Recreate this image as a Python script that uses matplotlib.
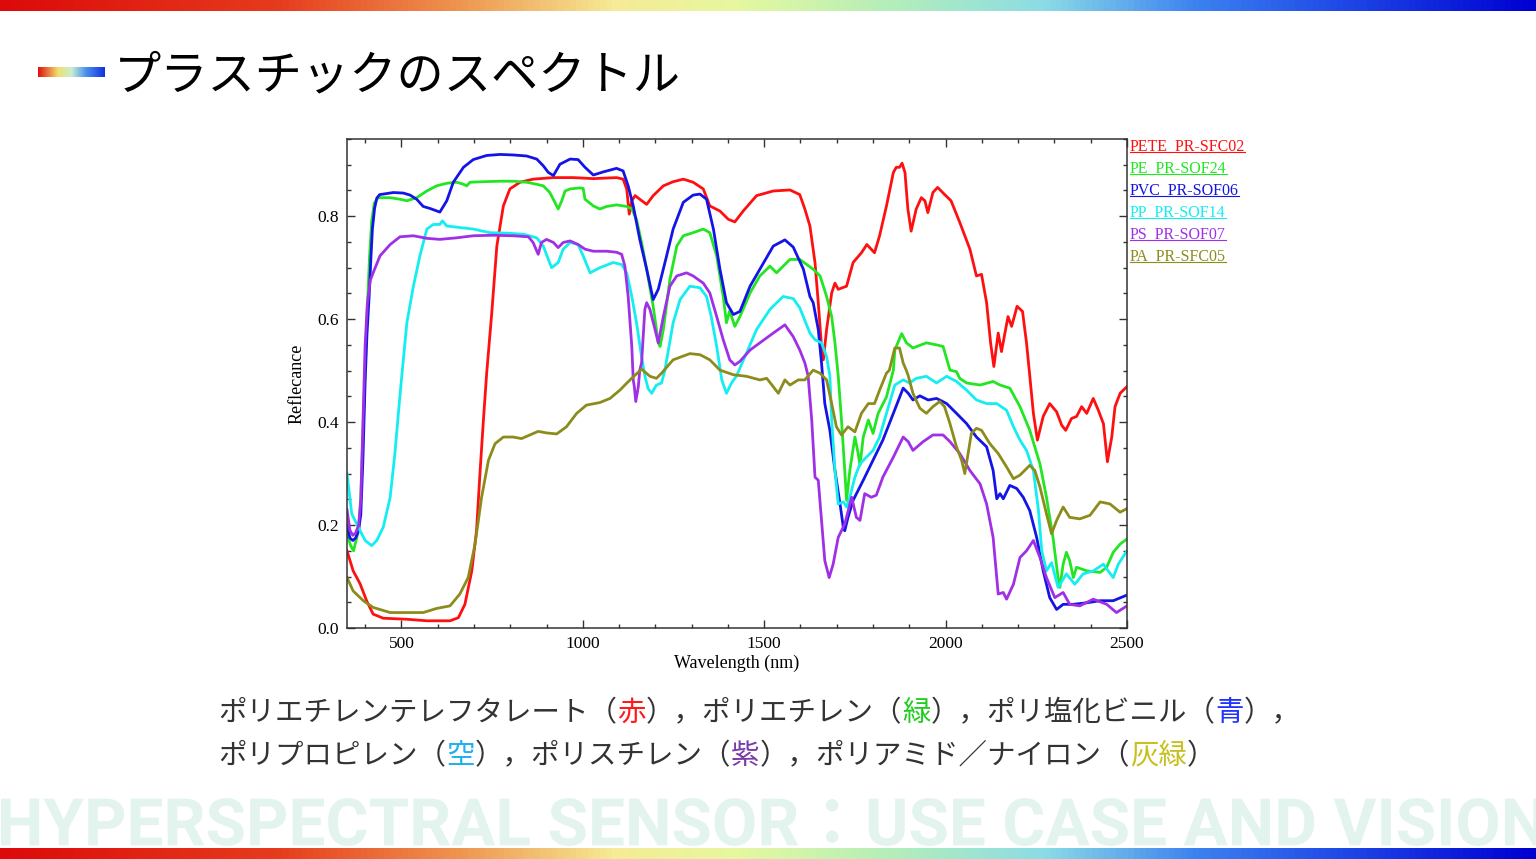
import matplotlib
matplotlib.use("Agg")
import matplotlib.pyplot as plt
import numpy as np
from matplotlib.colors import LinearSegmentedColormap
from matplotlib.textpath import TextPath
from matplotlib.patches import PathPatch
from matplotlib.font_manager import FontProperties
from matplotlib.lines import Line2D
import matplotlib.transforms as mtransforms
from matplotlib.ticker import MultipleLocator

# ---- data (wavelength nm, reflectance) ----
pete_wl = [350, 367, 386, 404, 422, 450, 515, 570, 634, 657,
           675, 694, 707, 717, 726, 735, 749, 763, 781, 799,
           827, 863, 919, 974, 1029, 1093, 1111, 1121, 1128, 1135,
           1144, 1157, 1176, 1194, 1222, 1249, 1277, 1304, 1332, 1350,
           1378, 1401, 1419, 1442, 1479, 1525, 1571, 1598, 1612, 1626,
           1640, 1649, 1658, 1663, 1672, 1686, 1695, 1704, 1727, 1745,
           1768, 1783, 1804, 1818, 1837, 1856, 1864, 1873, 1880, 1888,
           1896, 1905, 1919, 1933, 1943, 1951, 1965, 1978, 1996, 2015,
           2039, 2067, 2085, 2099, 2113, 2124, 2133, 2145, 2154, 2172,
           2182, 2197, 2212, 2223, 2232, 2242, 2253, 2269, 2287, 2306,
           2320, 2331, 2347, 2361, 2375, 2389, 2407, 2421, 2435, 2446,
           2458, 2467, 2481, 2500]
pete_r = [0.150, 0.111, 0.086, 0.053, 0.027, 0.019, 0.017, 0.014, 0.014, 0.020,
          0.046, 0.111, 0.189, 0.306, 0.404, 0.495, 0.612, 0.742, 0.820, 0.853,
          0.866, 0.872, 0.875, 0.875, 0.873, 0.875, 0.872, 0.853, 0.804, 0.830,
          0.840, 0.833, 0.823, 0.840, 0.859, 0.867, 0.872, 0.866, 0.853, 0.820,
          0.810, 0.794, 0.789, 0.810, 0.840, 0.849, 0.851, 0.842, 0.814, 0.781,
          0.710, 0.632, 0.547, 0.521, 0.580, 0.651, 0.670, 0.658, 0.664, 0.710,
          0.729, 0.745, 0.729, 0.762, 0.820, 0.885, 0.895, 0.895, 0.903, 0.885,
          0.814, 0.771, 0.814, 0.836, 0.830, 0.807, 0.846, 0.856, 0.843, 0.830,
          0.788, 0.736, 0.684, 0.687, 0.632, 0.554, 0.508, 0.573, 0.537, 0.605,
          0.586, 0.625, 0.615, 0.554, 0.490, 0.417, 0.365, 0.411, 0.436, 0.420,
          0.394, 0.384, 0.407, 0.411, 0.430, 0.417, 0.446, 0.423, 0.397, 0.323,
          0.371, 0.430, 0.456, 0.469]

pe_wl = [350, 360, 368, 375, 382, 388, 394, 400, 406, 412,
         418, 425, 436, 469, 496, 515, 542, 570, 597, 625,
         652, 671, 680, 689, 726, 772, 808, 845, 873, 891,
         909, 923, 932, 942, 951, 965, 992, 1001, 1006, 1029,
         1047, 1066, 1093, 1121, 1135, 1148, 1162, 1176, 1194, 1208,
         1213, 1222, 1240, 1259, 1277, 1304, 1332, 1350, 1369, 1387,
         1396, 1404, 1410, 1419, 1433, 1461, 1488, 1516, 1534, 1548,
         1571, 1598, 1635, 1654, 1672, 1686, 1695, 1704, 1713, 1722,
         1727, 1736, 1750, 1759, 1764, 1773, 1787, 1800, 1814, 1837,
         1856, 1860, 1879, 1892, 1910, 1947, 1975, 1993, 2012, 2030,
         2039, 2058, 2095, 2131, 2150, 2177, 2205, 2232, 2260, 2278,
         2296, 2310, 2315, 2324, 2333, 2342, 2352, 2361, 2389, 2426,
         2444, 2462, 2481, 2500]
pe_r = [0.185, 0.160, 0.150, 0.170, 0.190, 0.250, 0.380, 0.500, 0.620, 0.720,
        0.790, 0.825, 0.836, 0.836, 0.833, 0.830, 0.836, 0.849, 0.859, 0.864,
        0.866, 0.862, 0.859, 0.866, 0.867, 0.868, 0.868, 0.866, 0.862, 0.859,
        0.846, 0.827, 0.814, 0.830, 0.849, 0.853, 0.855, 0.854, 0.833, 0.820,
        0.814, 0.819, 0.822, 0.819, 0.814, 0.794, 0.749, 0.697, 0.625, 0.554,
        0.547, 0.580, 0.677, 0.742, 0.762, 0.768, 0.775, 0.768, 0.723, 0.644,
        0.593, 0.615, 0.605, 0.586, 0.605, 0.651, 0.684, 0.703, 0.690, 0.700,
        0.716, 0.716, 0.697, 0.684, 0.644, 0.605, 0.554, 0.490, 0.404, 0.306,
        0.248, 0.306, 0.371, 0.339, 0.316, 0.371, 0.404, 0.378, 0.417, 0.449,
        0.501, 0.540, 0.572, 0.554, 0.544, 0.554, 0.550, 0.547, 0.501, 0.498,
        0.485, 0.476, 0.472, 0.479, 0.472, 0.466, 0.430, 0.384, 0.319, 0.254,
        0.176, 0.098, 0.079, 0.124, 0.147, 0.131, 0.098, 0.118, 0.111, 0.108,
        0.118, 0.147, 0.163, 0.173]

pvc_wl = [350, 358, 366, 374, 382, 388, 394, 400, 405, 411,
          416, 420, 426, 432, 440, 450, 478, 505, 524, 542,
          560, 579, 606, 625, 643, 671, 698, 735, 772, 808,
          845, 873, 891, 905, 919, 937, 965, 987, 1006, 1029,
          1056, 1093, 1111, 1125, 1139, 1157, 1176, 1194, 1208, 1231,
          1249, 1277, 1304, 1323, 1341, 1360, 1378, 1396, 1415, 1433,
          1461, 1488, 1525, 1557, 1580, 1608, 1626, 1635, 1649, 1658,
          1667, 1681, 1695, 1709, 1718, 1722, 1731, 1745, 1773, 1800,
          1827, 1856, 1883, 1897, 1910, 1929, 1952, 1975, 2003, 2030,
          2058, 2085, 2113, 2131, 2141, 2150, 2159, 2177, 2196, 2214,
          2232, 2251, 2269, 2287, 2306, 2324, 2352, 2389, 2426, 2462,
          2500]
pvc_r = [0.200, 0.175, 0.170, 0.175, 0.190, 0.220, 0.330, 0.480, 0.570, 0.644,
         0.720, 0.775, 0.815, 0.835, 0.842, 0.843, 0.846, 0.845, 0.841, 0.833,
         0.819, 0.815, 0.808, 0.830, 0.866, 0.895, 0.910, 0.918, 0.920, 0.919,
         0.917, 0.911, 0.898, 0.885, 0.879, 0.901, 0.911, 0.910, 0.895, 0.880,
         0.886, 0.893, 0.888, 0.859, 0.820, 0.755, 0.697, 0.638, 0.658, 0.723,
         0.775, 0.827, 0.841, 0.843, 0.833, 0.775, 0.697, 0.632, 0.609, 0.615,
         0.664, 0.697, 0.742, 0.754, 0.740, 0.697, 0.644, 0.632, 0.580, 0.515,
         0.436, 0.384, 0.306, 0.241, 0.196, 0.189, 0.215, 0.248, 0.287, 0.326,
         0.365, 0.417, 0.466, 0.456, 0.443, 0.451, 0.443, 0.446, 0.436, 0.417,
         0.397, 0.371, 0.352, 0.306, 0.251, 0.261, 0.251, 0.277, 0.271, 0.254,
         0.228, 0.176, 0.111, 0.059, 0.036, 0.046, 0.046, 0.049, 0.053, 0.053,
         0.064]

pp_wl = [350, 363, 372, 381, 400, 418, 432, 450, 469, 482,
         494, 501, 515, 533, 551, 570, 588, 606, 613, 625,
         661, 698, 744, 790, 836, 873, 891, 905, 914, 932,
         946, 965, 987, 1001, 1020, 1047, 1084, 1107, 1121, 1135,
         1148, 1162, 1171, 1180, 1190, 1203, 1217, 1226, 1249, 1268,
         1295, 1323, 1341, 1354, 1369, 1383, 1396, 1410, 1424, 1451,
         1479, 1516, 1552, 1580, 1598, 1626, 1640, 1658, 1672, 1681,
         1686, 1695, 1704, 1718, 1727, 1736, 1750, 1764, 1782, 1800,
         1818, 1837, 1860, 1883, 1901, 1919, 1947, 1975, 2003, 2030,
         2058, 2085, 2113, 2141, 2168, 2187, 2205, 2223, 2242, 2256,
         2265, 2278, 2292, 2310, 2333, 2356, 2379, 2407, 2435, 2448,
         2462, 2476, 2500]
pp_r = [0.300, 0.222, 0.209, 0.196, 0.170, 0.160, 0.170, 0.196, 0.254, 0.339,
        0.436, 0.490, 0.593, 0.664, 0.723, 0.775, 0.784, 0.784, 0.791, 0.781,
        0.778, 0.775, 0.768, 0.767, 0.765, 0.758, 0.742, 0.716, 0.700, 0.710,
        0.736, 0.749, 0.745, 0.723, 0.690, 0.700, 0.710, 0.706, 0.690, 0.644,
        0.593, 0.527, 0.490, 0.465, 0.456, 0.472, 0.476, 0.500, 0.593, 0.638,
        0.664, 0.661, 0.644, 0.605, 0.547, 0.482, 0.456, 0.476, 0.490, 0.534,
        0.580, 0.619, 0.644, 0.640, 0.622, 0.573, 0.560, 0.554, 0.527, 0.490,
        0.404, 0.306, 0.241, 0.245, 0.235, 0.254, 0.293, 0.319, 0.332, 0.345,
        0.371, 0.417, 0.472, 0.482, 0.476, 0.485, 0.489, 0.476, 0.489, 0.479,
        0.462, 0.443, 0.436, 0.436, 0.423, 0.391, 0.365, 0.345, 0.306, 0.228,
        0.150, 0.111, 0.127, 0.079, 0.105, 0.085, 0.105, 0.111, 0.124, 0.111,
        0.098, 0.124, 0.150]

ps_wl = [350, 358, 366, 374, 382, 388, 394, 400, 406, 414,
         422, 441, 469, 496, 533, 570, 606, 652, 698, 753,
         808, 850, 863, 877, 886, 900, 919, 932, 946, 965,
         987, 1006, 1029, 1066, 1093, 1107, 1116, 1125, 1135, 1139,
         1142, 1146, 1153, 1157, 1162, 1171, 1176, 1185, 1199, 1208,
         1222, 1240, 1259, 1286, 1304, 1332, 1350, 1369, 1387, 1405,
         1419, 1433, 1461, 1488, 1525, 1557, 1580, 1598, 1612, 1621,
         1631, 1640, 1649, 1658, 1667, 1679, 1690, 1704, 1722, 1741,
         1754, 1764, 1777, 1795, 1809, 1827, 1856, 1883, 1897, 1910,
         1938, 1965, 1993, 2012, 2039, 2067, 2095, 2113, 2131, 2145,
         2159, 2168, 2187, 2205, 2223, 2242, 2260, 2278, 2301, 2324,
         2342, 2370, 2407, 2444, 2471, 2500]
ps_r = [0.230, 0.190, 0.180, 0.185, 0.200, 0.250, 0.400, 0.550, 0.630, 0.675,
        0.690, 0.723, 0.745, 0.760, 0.762, 0.757, 0.755, 0.758, 0.762, 0.763,
        0.762, 0.760, 0.749, 0.726, 0.749, 0.755, 0.749, 0.739, 0.749, 0.752,
        0.745, 0.736, 0.732, 0.732, 0.730, 0.726, 0.703, 0.644, 0.547, 0.482,
        0.469, 0.440, 0.469, 0.501, 0.515, 0.619, 0.632, 0.619, 0.580, 0.554,
        0.605, 0.664, 0.684, 0.690, 0.684, 0.670, 0.651, 0.605, 0.560, 0.521,
        0.511, 0.518, 0.540, 0.554, 0.573, 0.589, 0.566, 0.540, 0.515, 0.490,
        0.404, 0.293, 0.287, 0.209, 0.131, 0.098, 0.124, 0.176, 0.202, 0.254,
        0.215, 0.209, 0.261, 0.254, 0.258, 0.293, 0.332, 0.371, 0.362, 0.345,
        0.362, 0.375, 0.375, 0.362, 0.339, 0.306, 0.280, 0.241, 0.176, 0.066,
        0.069, 0.056, 0.085, 0.137, 0.150, 0.170, 0.137, 0.098, 0.059, 0.069,
        0.046, 0.043, 0.056, 0.046, 0.030, 0.043]

pa_wl = [350, 367, 395, 422, 469, 560, 597, 634, 661, 684,
         703, 721, 740, 758, 781, 808, 831, 854, 877, 900,
         928, 955, 983, 1010, 1047, 1075, 1102, 1130, 1162, 1185,
         1203, 1217, 1249, 1295, 1323, 1350, 1378, 1415, 1451, 1488,
         1507, 1539, 1557, 1571, 1594, 1612, 1635, 1654, 1672, 1686,
         1699, 1713, 1731, 1750, 1768, 1787, 1804, 1818, 1837, 1845,
         1860, 1873, 1883, 1892, 1897, 1910, 1929, 1947, 1965, 1984,
         1997, 2012, 2030, 2044, 2053, 2062, 2071, 2085, 2099, 2122,
         2145, 2168, 2187, 2205, 2232, 2246, 2260, 2278, 2292, 2306,
         2324, 2342, 2370, 2398, 2426, 2453, 2481, 2500]
pa_r = [0.098, 0.072, 0.053, 0.040, 0.030, 0.030, 0.038, 0.043, 0.066, 0.098,
        0.163, 0.254, 0.326, 0.358, 0.371, 0.371, 0.368, 0.375, 0.382, 0.379,
        0.377, 0.391, 0.417, 0.433, 0.438, 0.446, 0.462, 0.482, 0.503, 0.489,
        0.485, 0.495, 0.521, 0.533, 0.531, 0.521, 0.501, 0.492, 0.489, 0.482,
        0.485, 0.456, 0.482, 0.472, 0.482, 0.482, 0.501, 0.495, 0.482, 0.436,
        0.391, 0.375, 0.391, 0.381, 0.417, 0.436, 0.436, 0.462, 0.495, 0.501,
        0.544, 0.544, 0.515, 0.500, 0.490, 0.456, 0.427, 0.417, 0.430, 0.440,
        0.430, 0.397, 0.352, 0.326, 0.300, 0.339, 0.378, 0.388, 0.384, 0.358,
        0.339, 0.313, 0.290, 0.297, 0.316, 0.306, 0.274, 0.222, 0.183, 0.209,
        0.235, 0.215, 0.212, 0.219, 0.245, 0.241, 0.225, 0.232]

series_names = ["PETE_PR-SFC02", "PE_PR-SOF24", "PVC_PR-SOF06",
                "PP_PR-SOF14", "PS_PR-SOF07", "PA_PR-SFC05"]
series_colors = ["#ff1010", "#22e622", "#1414e6", "#14eef0", "#a030e6", "#8c8c1c"]
series_wl = [pete_wl, pe_wl, pvc_wl, pp_wl, ps_wl, pa_wl]
series_r = [pete_r, pe_r, pvc_r, pp_r, ps_r, pa_r]

title_text = "プラスチックのスペクトル"
caption_line1 = [("ポリエチレンテレフタレート（", "#333333"), ("赤", "#ff1a1a"),
                 ("），ポリエチレン（", "#333333"), ("緑", "#22cc22"),
                 ("），ポリ塩化ビニル（", "#333333"), ("青", "#2233ff"),
                 ("），", "#333333")]
caption_line2 = [("ポリプロピレン（", "#333333"), ("空", "#20b0ee"),
                 ("），ポリスチレン（", "#333333"), ("紫", "#7a3aa8"),
                 ("），ポリアミド／ナイロン（", "#333333"), ("灰緑", "#c8c020"),
                 ("）", "#333333")]
watermark = "HYPERSPECTRAL SENSOR：USE CASE AND VISION"

# ---- figure ----
W, H = 1536, 859
fig = plt.figure(figsize=(W / 100, H / 100), dpi=100)
fig.patch.set_facecolor("white")
jp = ["Noto Sans CJK JP", "DejaVu Sans"]
serif = "Liberation Serif"

bar_cmap = LinearSegmentedColormap.from_list("bar", [
    (0.0, "#dc0a0a"), (0.18, "#e63c1e"), (0.30, "#ee9650"), (0.40, "#f6eb96"),
    (0.48, "#e6f8a0"), (0.58, "#b4eeb9"), (0.68, "#8cdce6"), (0.78, "#3c82f0"),
    (0.88, "#1e46e6"), (1.0, "#0000d2")])
grad = np.linspace(0, 1, 512).reshape(1, -1)
for ybar in (0, H - 11):
    bax = fig.add_axes([0, 1 - (ybar + 11) / H, 1, 11 / H])
    bax.imshow(grad, aspect="auto", cmap=bar_cmap)
    bax.axis("off")

# title with small gradient marker
icon_cmap = LinearSegmentedColormap.from_list("icon", [
    (0.0, "#e01010"), (0.3, "#f0e070"), (0.5, "#c8f0d0"), (0.72, "#4a90f0"), (1.0, "#1030e0")])
iax = fig.add_axes([38 / W, 1 - 77 / H, 67 / W, 10 / H])
iax.imshow(grad, aspect="auto", cmap=icon_cmap)
iax.axis("off")
fig.text(114 / W, 1 - 76 / H, title_text, family=jp, fontsize=34, color="black", va="center")

# watermark stretched across the bottom
wm_path = TextPath((0, 0), watermark, size=100,
                   prop=FontProperties(family=["Roboto", "Noto Sans CJK JP"], weight="bold"))
ext = wm_path.get_extents()
wm_tr = (mtransforms.Affine2D().translate(-ext.x0, -ext.y0)
         .scale(1542 / ext.width, 48 / ext.height).translate(1, H - 846)
         .scale(1 / W, 1 / H) + fig.transFigure)
fig.add_artist(PathPatch(wm_path, transform=wm_tr, facecolor="#e3f4ef", edgecolor="none"))

# ---- chart ----
ax = fig.add_axes([347 / W, (H - 628) / H, 780 / W, 489 / H])
for wl, r, c in zip(series_wl, series_r, series_colors):
    ax.plot(wl, r, color=c, lw=2.0, solid_joinstyle="round")
ax.set_xlim(350, 2500)
ax.set_ylim(0, 0.95)
ax.xaxis.set_major_locator(MultipleLocator(500))
ax.xaxis.set_minor_locator(MultipleLocator(100))
ax.yaxis.set_major_locator(MultipleLocator(0.2))
ax.yaxis.set_minor_locator(MultipleLocator(0.05))
ax.yaxis.set_major_formatter(matplotlib.ticker.FormatStrFormatter("%.1f"))
ax.tick_params(which="both", direction="in", top=True, right=True, color="#333333",
               labelsize=12.5, width=1.0, pad=6)
ax.tick_params(which="major", length=6)
ax.tick_params(which="minor", length=3)
for lab in ax.get_xticklabels() + ax.get_yticklabels():
    lab.set_family(serif)
for sp in ax.spines.values():
    sp.set_color("#333333")
    sp.set_linewidth(1.1)
ax.set_xlabel("Wavelength (nm)", family=serif, fontsize=13, labelpad=2)
ax.set_ylabel("Reflecance", family=serif, fontsize=13, labelpad=8)

# colored, underlined series names on the right
renderer = fig.canvas.get_renderer()
for i, (name, c) in enumerate(zip(series_names, series_colors)):
    yb = 1 - (150 + 22 * i) / H
    t = fig.text(1130 / W, yb, name, family=serif, fontsize=11.5, color=c, va="baseline")
    bb = t.get_window_extent(renderer)
    fig.add_artist(Line2D([bb.x0 / W, bb.x1 / W], [yb - 2 / H, yb - 2 / H],
                          color=c, lw=0.8, transform=fig.transFigure))

# caption lines with colored words
def put_line(parts, x_px, y_px):
    x = x_px / W
    for s, c in parts:
        t = fig.text(x, 1 - y_px / H, s, family=jp, fontsize=20.5, color=c, va="center")
        x = t.get_window_extent(renderer).x1 / W

put_line(caption_line1, 218, 713)
put_line(caption_line2, 218, 756)

fig.savefig("out.png", dpi=100, facecolor="white")
